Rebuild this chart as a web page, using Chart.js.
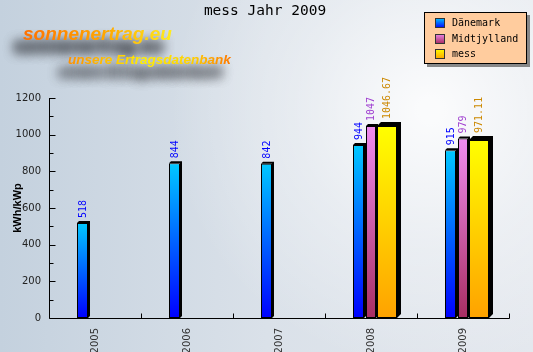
<!DOCTYPE html>
<html><head><meta charset="utf-8">
<style>html,body{margin:0;padding:0;overflow:hidden;background:#dde3ea}
#wrap{position:relative;width:533px;height:352px}</style>
<script src="https://cdn.jsdelivr.net/npm/chart.js@4.4.0/dist/chart.umd.min.js"></script>
</head><body><div id="wrap"><canvas id="c" width="533" height="352"></canvas></div>
<script>
const chartTitle = 'mess Jahr 2009';
const yAxisTitle = 'kWh/kWp';
const logoMain = 'sonnenertrag.eu';
const logoSub = 'unsere Ertragsdatenbank';
const years = ['2005', '2006', '2007', '2008', '2009'];
const seriesNames = ['Dänemark', 'Midtjylland', 'mess'];
const daenemark = [518, 844, 842, 944, 915];
const midtjylland = [null, null, null, 1047, 979];
const mess = [null, null, null, 1046.67, 971.11];
const yTicks = [0, 200, 400, 600, 800, 1000, 1200];

const styles = [
  {c1: '#00C8FF', c2: '#0000FF', text: '#0000FF', depth: 2, cp: 0.4076, bp: 0.88},
  {c1: '#F08CF0', c2: '#A82E62', text: '#A040D0', depth: 2, cp: 0.5, bp: 0.652},
  {c1: '#FFFF00', c2: '#FFA200', text: '#CC8800', depth: 4, cp: 0.5217, bp: 1.25}
];

function gradFill(st) {
  return (ctx) => {
    const chart = ctx.chart, ys = chart.scales && chart.scales.y;
    if (!ys || ctx.raw == null) return st.c1;
    const top = ys.getPixelForValue(ctx.raw), bot = ys.getPixelForValue(0);
    if (!isFinite(top) || !isFinite(bot) || top === bot) return st.c1;
    const g = chart.ctx.createLinearGradient(0, top, 0, bot);
    g.addColorStop(0, st.c1); g.addColorStop(1, st.c2);
    return g;
  };
}

const allData = [daenemark, midtjylland, mess];
const datasets = allData.map((d, i) => ({
  label: seriesNames[i],
  data: d,
  backgroundColor: gradFill(styles[i]),
  borderColor: '#000',
  borderWidth: 1,
  borderSkipped: false,
  categoryPercentage: styles[i].cp,
  barPercentage: styles[i].bp
}));

const bgPlugin = {
  id: 'bg',
  beforeDraw(chart) {
    const ctx = chart.ctx, W = chart.width, H = chart.height;
    ctx.save();
    let g = ctx.createLinearGradient(0, 0, W, 0);
    g.addColorStop(0, '#C4D1DE'); g.addColorStop(0.5, '#DAE1E9'); g.addColorStop(1, '#E4E8EE');
    ctx.fillStyle = g; ctx.fillRect(0, 0, W, H);
    let r = ctx.createRadialGradient(430, 110, 10, 430, 110, 260);
    r.addColorStop(0, 'rgba(255,255,255,0.85)'); r.addColorStop(0.5, 'rgba(255,255,255,0.35)'); r.addColorStop(1, 'rgba(255,255,255,0)');
    ctx.fillStyle = r; ctx.fillRect(0, 0, W, H);
    // logo shadows (blurred)
    ctx.textBaseline = 'alphabetic'; ctx.textAlign = 'left';
    ctx.shadowColor = 'rgba(30,32,38,1)';
    ctx.shadowBlur = 12; ctx.shadowOffsetX = -9 + 1000; ctx.shadowOffsetY = 12;
    ctx.fillStyle = '#000';
    for (let k = 0; k < 2; k++) {
      ctx.font = 'italic bold 19px "Liberation Sans"';
      ctx.fillText(logoMain, 23 - 1000, 40);
      ctx.font = 'italic bold 13.5px "Liberation Sans"';
      ctx.fillText(logoSub, 68 - 1000, 64);
    }
    ctx.shadowColor = 'rgba(0,0,0,0)'; ctx.shadowBlur = 0; ctx.shadowOffsetX = 0; ctx.shadowOffsetY = 0;
    ctx.font = 'italic bold 19px "Liberation Sans"';
    g = ctx.createLinearGradient(23, 0, 175, 0);
    g.addColorStop(0, '#FF7000'); g.addColorStop(0.55, '#FFA800'); g.addColorStop(1, '#FFF020');
    ctx.fillStyle = g; ctx.fillText(logoMain, 23, 40);
    ctx.font = 'italic bold 13.5px "Liberation Sans"';
    g = ctx.createLinearGradient(68, 0, 234, 0);
    g.addColorStop(0, '#FF9000'); g.addColorStop(0.45, '#FFEE00'); g.addColorStop(0.75, '#FFD000'); g.addColorStop(1, '#FF7000');
    ctx.fillStyle = g; ctx.fillText(logoSub, 68, 64);
    ctx.restore();
  }
};

const barPlugin = {
  id: 'bar3d',
  beforeDatasetsDraw(chart) {
    const ctx = chart.ctx;
    ctx.save(); ctx.fillStyle = '#000';
    chart.data.datasets.forEach((ds, i) => {
      const d = styles[i].depth;
      chart.getDatasetMeta(i).data.forEach((el, j) => {
        if (ds.data[j] == null) return;
        const p = el.getProps(['x', 'y', 'base', 'width'], true);
        const l = p.x - p.width / 2, r = p.x + p.width / 2;
        ctx.beginPath();
        ctx.moveTo(l, p.y); ctx.lineTo(l + d, p.y - d); ctx.lineTo(r + d, p.y - d);
        ctx.lineTo(r + d, p.base - d); ctx.lineTo(r, p.base); ctx.lineTo(r, p.y); ctx.closePath();
        ctx.fill();
      });
    });
    ctx.restore();
  },
  afterDatasetsDraw(chart) {
    const ctx = chart.ctx;
    ctx.save();
    ctx.font = '10px "DejaVu Sans Mono"';
    ctx.textAlign = 'left'; ctx.textBaseline = 'middle';
    chart.data.datasets.forEach((ds, i) => {
      const st = styles[i];
      ctx.fillStyle = st.text;
      chart.getDatasetMeta(i).data.forEach((el, j) => {
        const v = ds.data[j];
        if (v == null) return;
        const p = el.getProps(['x', 'y'], true);
        ctx.save();
        ctx.translate(p.x + 0.5, p.y - st.depth - 3);
        ctx.rotate(-Math.PI / 2);
        ctx.fillText(String(v), 0, 0);
        ctx.restore();
      });
    });
    ctx.restore();
  }
};

const axisPlugin = {
  id: 'axes',
  afterDraw(chart) {
    const ctx = chart.ctx, a = chart.chartArea, xs = chart.scales.x, ys = chart.scales.y;
    ctx.save();
    ctx.strokeStyle = '#000'; ctx.lineWidth = 1;
    ctx.beginPath();
    const L = Math.round(a.left) + 0.5, B = Math.round(a.bottom) + 0.5;
    ctx.moveTo(L, Math.round(a.top)); ctx.lineTo(L, B); ctx.lineTo(Math.round(a.right) + 0.5, B);
    for (let v = 0; v <= 1200; v += 100) {
      const y = Math.round(ys.getPixelForValue(v)) + 0.5;
      const len = (v % 200 === 0) ? 6 : 4;
      ctx.moveTo(L, y); ctx.lineTo(L + len, y);
    }
    const half = (xs.getPixelForValue(1) - xs.getPixelForValue(0)) / 2;
    for (let i = 0; i < years.length; i++) {
      const x = Math.round(xs.getPixelForValue(i) + half) + 0.5;
      ctx.moveTo(x, B); ctx.lineTo(x, B - 5);
    }
    ctx.stroke();
    // y title
    ctx.fillStyle = '#000';
    ctx.font = 'bold 11px "Liberation Sans"';
    ctx.textAlign = 'center'; ctx.textBaseline = 'middle';
    ctx.save(); ctx.translate(18, (a.top + a.bottom) / 2); ctx.rotate(-Math.PI / 2);
    ctx.fillText(yAxisTitle, 0, 0); ctx.restore();
    // chart title
    ctx.font = '14.5px "DejaVu Sans Mono"';
    ctx.fillText(chartTitle, 265, 11);
    // legend
    const bx = 424, by = 12, bw = 103, bh = 52;
    ctx.fillStyle = 'rgba(90,90,90,0.7)';
    ctx.fillRect(bx + 3, by + 3, bw, bh);
    ctx.fillStyle = '#FFCC9E';
    ctx.fillRect(bx, by, bw, bh);
    ctx.strokeStyle = '#000';
    ctx.strokeRect(bx + 0.5, by + 0.5, bw - 1, bh - 1);
    ctx.font = '10px "DejaVu Sans Mono"';
    ctx.textAlign = 'left'; ctx.textBaseline = 'middle';
    seriesNames.forEach((n, i) => {
      const cy = 23 + i * 15.5;
      const st = styles[i];
      const g = ctx.createLinearGradient(0, cy - 5, 0, cy + 5);
      g.addColorStop(0, st.c1); g.addColorStop(1, st.c2);
      ctx.fillStyle = g;
      ctx.fillRect(435, Math.round(cy - 5), 10, 10);
      ctx.strokeStyle = '#333';
      ctx.strokeRect(435.5, Math.round(cy - 5) + 0.5, 9, 9);
      ctx.fillStyle = '#000';
      ctx.fillText(n, 452, cy + 0.5);
    });
    ctx.restore();
  }
};

new Chart(document.getElementById('c'), {
  type: 'bar',
  data: {labels: years, datasets},
  options: {
    responsive: false, animation: false, devicePixelRatio: 1,
    layout: {padding: {top: 98, right: 24, left: 0, bottom: 0}},
    plugins: {legend: {display: false}, tooltip: {enabled: false}, title: {display: false}},
    scales: {
      x: {
        grid: {display: false, drawTicks: false}, border: {display: false},
        ticks: {minRotation: 90, maxRotation: 90, padding: 10, color: '#333', font: {family: 'DejaVu Sans', size: 10}},
        afterFit: s => { s.height = 34; }
      },
      y: {
        min: 0, max: 1200,
        grid: {display: false, drawTicks: false}, border: {display: false},
        ticks: {padding: 8, color: '#222', font: {family: 'DejaVu Sans', size: 10}, callback: v => String(v)},
        afterBuildTicks: s => { s.ticks = yTicks.map(v => ({value: v})); },
        afterFit: s => { s.width = 49; }
      }
    }
  },
  plugins: [bgPlugin, barPlugin, axisPlugin]
});
</script></body></html>
